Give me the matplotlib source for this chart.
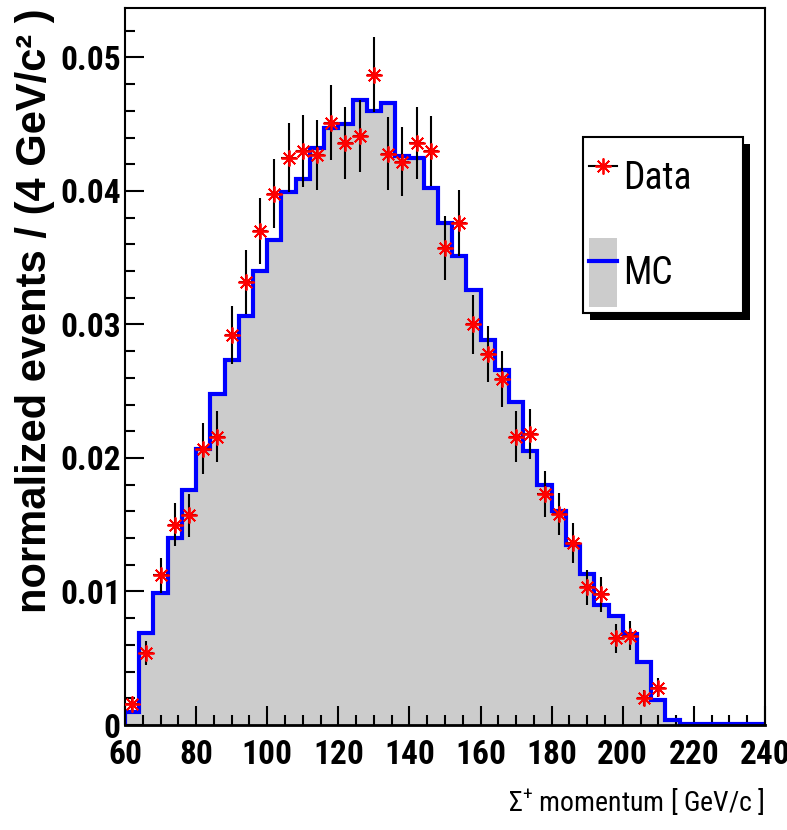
import matplotlib
matplotlib.use('Agg')
import matplotlib.pyplot as plt
from matplotlib import font_manager
import matplotlib.patheffects as pe
from matplotlib.lines import Line2D
from matplotlib.patches import Patch
from matplotlib.legend_handler import HandlerTuple
from matplotlib.ticker import MultipleLocator, FuncFormatter
import numpy as np

# ---------------- data ----------------
mc_edges_lo = 60
mc_bin_width = 4
mc_values = [0.0010, 0.0069, 0.0099, 0.0140, 0.0176, 0.0207, 0.0248, 0.0273,
             0.0306, 0.0340, 0.0363, 0.0399, 0.0409, 0.0432, 0.0447, 0.0450,
             0.0468, 0.0460, 0.0466, 0.0426, 0.0425, 0.0402, 0.0376, 0.0351,
             0.0326, 0.0288, 0.0266, 0.0242, 0.0205, 0.0180, 0.0160, 0.0135,
             0.0113, 0.0090, 0.0082, 0.0068, 0.0047, 0.0019, 0.0004, 0.0001,
             0.0001, 0.0001, 0.0001, 0.0001, 0.0001]

data_x = [62, 66, 70, 74, 78, 82, 86, 90, 94, 98, 102, 106, 110, 114, 118,
          122, 126, 130, 134, 138, 142, 146, 150, 154, 158, 162, 166, 170,
          174, 178, 182, 186, 190, 194, 198, 202, 206, 210]
data_y = [0.00155, 0.0054, 0.0112, 0.0150, 0.0157, 0.0207, 0.0216, 0.0292,
          0.0332, 0.0370, 0.0398, 0.0425, 0.0430, 0.0427, 0.0451, 0.0436,
          0.0441, 0.0487, 0.0428, 0.0422, 0.0436, 0.0430, 0.0357, 0.0376,
          0.0300, 0.0278, 0.0259, 0.0216, 0.0218, 0.0173, 0.0158, 0.0136,
          0.0103, 0.0098, 0.0065, 0.0067, 0.0020, 0.0028]
data_err = [0.0004, 0.0009, 0.0013, 0.0016, 0.0016, 0.0019, 0.0019, 0.0022,
            0.0024, 0.0025, 0.0026, 0.0026, 0.0027, 0.0026, 0.0028, 0.0027,
            0.0027, 0.0028, 0.0027, 0.0026, 0.0027, 0.0026, 0.0024, 0.0025,
            0.0022, 0.0021, 0.0021, 0.0019, 0.0019, 0.0017, 0.0016, 0.0015,
            0.0013, 0.0013, 0.0011, 0.0011, 0.0006, 0.0007]
data_xerr = 2

x_label = "Σ$^{+}$ momentum [ GeV/c ]"
y_label = "normalized events / (4 GeV/c² )"
legend_labels = ["Data", "MC"]

# ---------------- fonts ----------------
names = {f.name for f in font_manager.fontManager.ttflist}
def pick(*cands):
    for n in cands:
        if n in names:
            return n
    return 'DejaVu Sans'
narrow = pick('Liberation Sans Narrow', 'Roboto Condensed', 'Open Sans Condensed',
              'Liberation Sans')
sans = pick('Liberation Sans', 'Arial', 'DejaVu Sans')

plt.rcParams['font.family'] = [narrow, 'DejaVu Sans']
plt.rcParams['mathtext.fontset'] = 'custom'
plt.rcParams['mathtext.rm'] = narrow
plt.rcParams['mathtext.it'] = narrow
plt.rcParams['mathtext.bf'] = narrow + ':bold'
plt.rcParams['mathtext.default'] = 'rm'

# ---------------- figure ----------------
W, H = 787, 830
fig = plt.figure(figsize=(W / 100, H / 100), dpi=100)
ax = fig.add_axes([125 / W, 1 - 725 / H, 640 / W, 717 / H])

edges = mc_edges_lo + mc_bin_width * np.arange(len(mc_values) + 1)
ax.stairs(mc_values, edges, fill=True, color='#cccccc', baseline=0, zorder=1)
ax.stairs(mc_values, edges, color='#0000ff', lw=3.0, baseline=0, zorder=2)

ax.errorbar(data_x, data_y, yerr=data_err, xerr=data_xerr, fmt='none',
            ecolor='black', elinewidth=1.5, capsize=0, zorder=3)
ax.plot(data_x, data_y, ls='none', marker=(8, 2, 0), ms=11.5, mec='red',
        mew=1.3, color='red', zorder=4)

ax.set_xlim(60, 240)
ax.set_ylim(0, 0.0537)

ax.xaxis.set_major_locator(MultipleLocator(20))
ax.xaxis.set_minor_locator(MultipleLocator(5))
ax.yaxis.set_major_locator(MultipleLocator(0.01))
ax.yaxis.set_minor_locator(MultipleLocator(0.002))
ax.yaxis.set_major_formatter(FuncFormatter(lambda v, p: '%g' % round(v, 4)))

ax.tick_params(which='both', direction='in', top=False, right=False,
               width=1.5, color='black')
ax.tick_params(which='major', length=14)
ax.tick_params(which='minor', length=7)
ax.tick_params(axis='x', which='major', pad=10)
ax.tick_params(axis='y', which='major', pad=3)
for lab in ax.get_xticklabels() + ax.get_yticklabels():
    lab.set_fontfamily([narrow, 'DejaVu Sans'])
    lab.set_fontweight('bold')
    lab.set_fontsize(24)

for s in ax.spines.values():
    s.set_linewidth(1.5)
    s.set_color('black')
ax.spines['bottom'].set_linewidth(2.0)

ax.set_xlabel(x_label, loc='right', fontsize=20, labelpad=11,
              fontfamily=[narrow, 'DejaVu Sans'])
ax.set_ylabel(y_label, loc='top', fontsize=30, fontweight='bold',
              fontfamily=[sans, 'DejaVu Sans'])
ax.yaxis.set_label_coords(-0.11, 1.0)

# ---------------- legend ----------------
h_data = (Line2D([], [], color='black', lw=1.5),
          Line2D([], [], ls='none', marker=(8, 2, 0), ms=11.5, mec='red', mew=1.3))
h_mc = (Patch(facecolor='#cccccc', edgecolor='none'),
        Line2D([], [], color='#0000ff', lw=3.0))
leg = ax.legend([h_data, h_mc], legend_labels,
                handler_map={tuple: HandlerTuple(ndivide=1, pad=0)},
                loc='upper left', bbox_to_anchor=(0.716, 0.571, 0.25, 0.249),
                mode='expand', borderaxespad=0,
                prop={'family': [narrow, 'DejaVu Sans'], 'size': 27},
                handlelength=0.75, handleheight=2.45, handletextpad=0.16,
                borderpad=0.16, labelspacing=0.69, fancybox=False,
                framealpha=1, edgecolor='black')
fr = leg.get_frame()
fr.set_linewidth(1.5)
fr.set_path_effects([pe.SimplePatchShadow(offset=(5, -5), shadow_rgbFace='black',
                                          alpha=1.0), pe.Normal()])
leg.set_zorder(10)

fig.savefig('out.png', dpi=100)
